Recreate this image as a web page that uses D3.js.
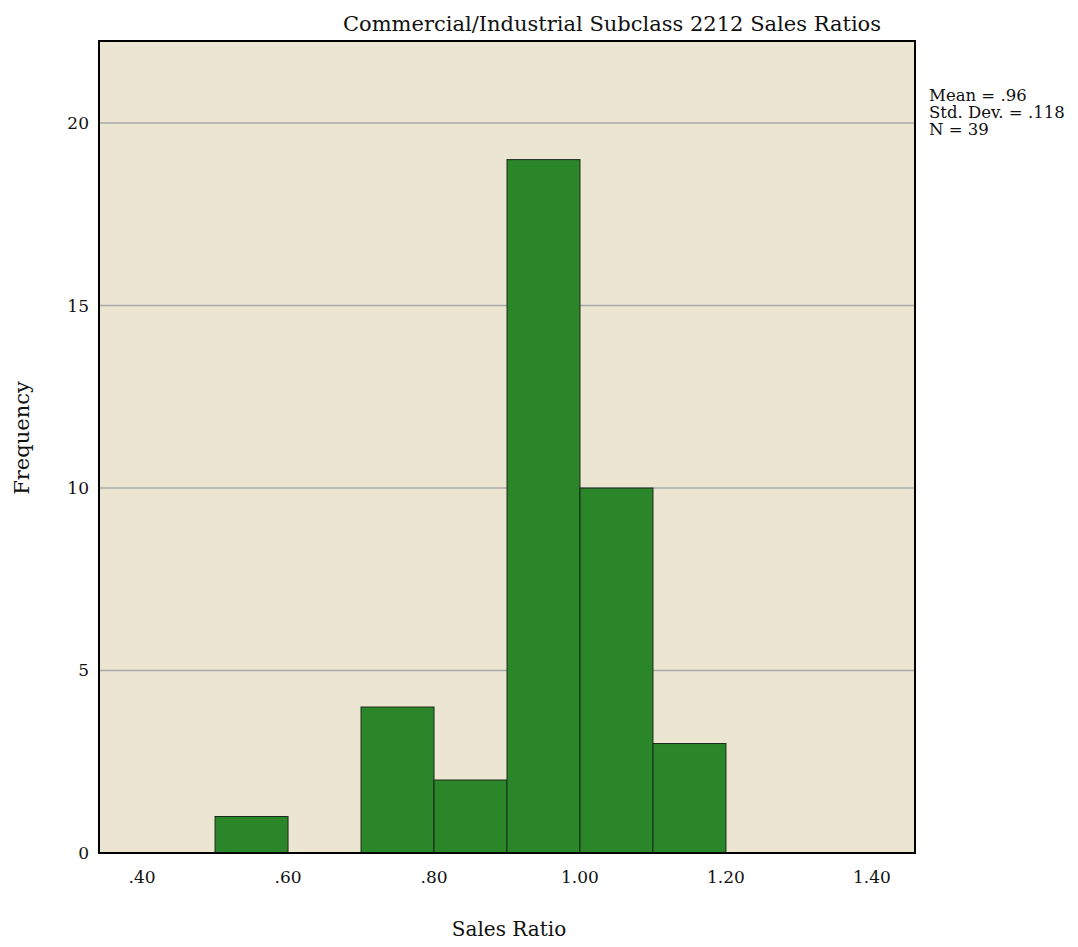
<!DOCTYPE html>
<html>
<head>
<meta charset="utf-8">
<script src="https://cdn.jsdelivr.net/npm/d3@7"></script>
<style>
  body { margin: 0; background: #fff; }
  text { font-family: "DejaVu Serif", "Liberation Serif", serif; fill: #111; }
</style>
</head>
<body>
<svg id="svg"></svg>
<script>
// Histogram bins (lower edge, upper edge) and counts
const binStarts = [0.5, 0.7, 0.8, 0.9, 1.0, 1.1];
const binEnds = [0.6, 0.8, 0.9, 1.0, 1.1, 1.2];
const counts = [1, 4, 2, 19, 10, 3];
const xTicks = [0.4, 0.6, 0.8, 1.0, 1.2, 1.4];
const xTickLabels = [".40", ".60", ".80", "1.00", "1.20", "1.40"];
const yTicks = [0, 5, 10, 15, 20];
const statsLines = ["Mean = .96", "Std. Dev. = .118", "N = 39"];

const width = 1078, height = 947;
const margin = { top: 41, right: 163, bottom: 94, left: 99 };
const innerW = width - margin.left - margin.right;
const innerH = height - margin.top - margin.bottom;

const svg = d3.select("#svg").attr("width", width).attr("height", height);

const x = d3.scaleLinear().domain([0.341, 1.459]).range([0, innerW]);
const y = d3.scaleLinear().domain([0, 22.25]).range([innerH, 0]);

const g = svg.append("g").attr("transform", `translate(${margin.left},${margin.top})`);

// background
g.append("rect").attr("width", innerW).attr("height", innerH).attr("fill", "#ebe5d1");

// gridlines
g.selectAll("line.grid")
  .data(yTicks.filter(d => d > 0))
  .enter().append("line")
  .attr("class", "grid")
  .attr("x1", 0).attr("x2", innerW)
  .attr("y1", d => y(d)).attr("y2", d => y(d))
  .attr("stroke", "#a9a9a9").attr("stroke-width", 1.5);

// bars
const bins = binStarts.map((s, i) => ({ x0: s, x1: binEnds[i], n: counts[i] }));
g.selectAll("rect.bar")
  .data(bins)
  .enter().append("rect")
  .attr("class", "bar")
  .attr("x", d => x(d.x0))
  .attr("width", d => x(d.x1) - x(d.x0))
  .attr("y", d => y(d.n))
  .attr("height", d => y(0) - y(d.n))
  .attr("fill", "#2a8629")
  .attr("stroke", "#1c2a1a")
  .attr("stroke-width", 1);

// frame
g.append("rect").attr("width", innerW).attr("height", innerH)
  .attr("fill", "none").attr("stroke", "#000").attr("stroke-width", 2);

// y axis labels
g.selectAll("text.ytick")
  .data(yTicks)
  .enter().append("text")
  .attr("class", "ytick")
  .attr("x", -10)
  .attr("y", d => y(d))
  .attr("dy", "0.35em")
  .attr("text-anchor", "end")
  .attr("font-size", 17)
  .text(d => d);

// x axis labels
g.selectAll("text.xtick")
  .data(xTicks)
  .enter().append("text")
  .attr("class", "xtick")
  .attr("x", d => x(d))
  .attr("y", innerH + 30)
  .attr("text-anchor", "middle")
  .attr("font-size", 17)
  .text((d, i) => xTickLabels[i]);

// titles
svg.append("text")
  .attr("x", 612)
  .attr("y", 31)
  .attr("text-anchor", "middle")
  .attr("font-size", 21)
  .text("Commercial/Industrial Subclass 2212 Sales Ratios");

svg.append("text")
  .attr("x", 509)
  .attr("y", 936)
  .attr("text-anchor", "middle")
  .attr("font-size", 20)
  .text("Sales Ratio");

svg.append("text")
  .attr("transform", "translate(29,438) rotate(-90)")
  .attr("text-anchor", "middle")
  .attr("font-size", 21)
  .text("Frequency");

// stats box
svg.append("g").selectAll("text")
  .data(statsLines)
  .enter().append("text")
  .attr("x", 929)
  .attr("y", (d, i) => 101 + i * 17)
  .attr("font-size", 16.5)
  .text(d => d);
</script>
</body>
</html>
